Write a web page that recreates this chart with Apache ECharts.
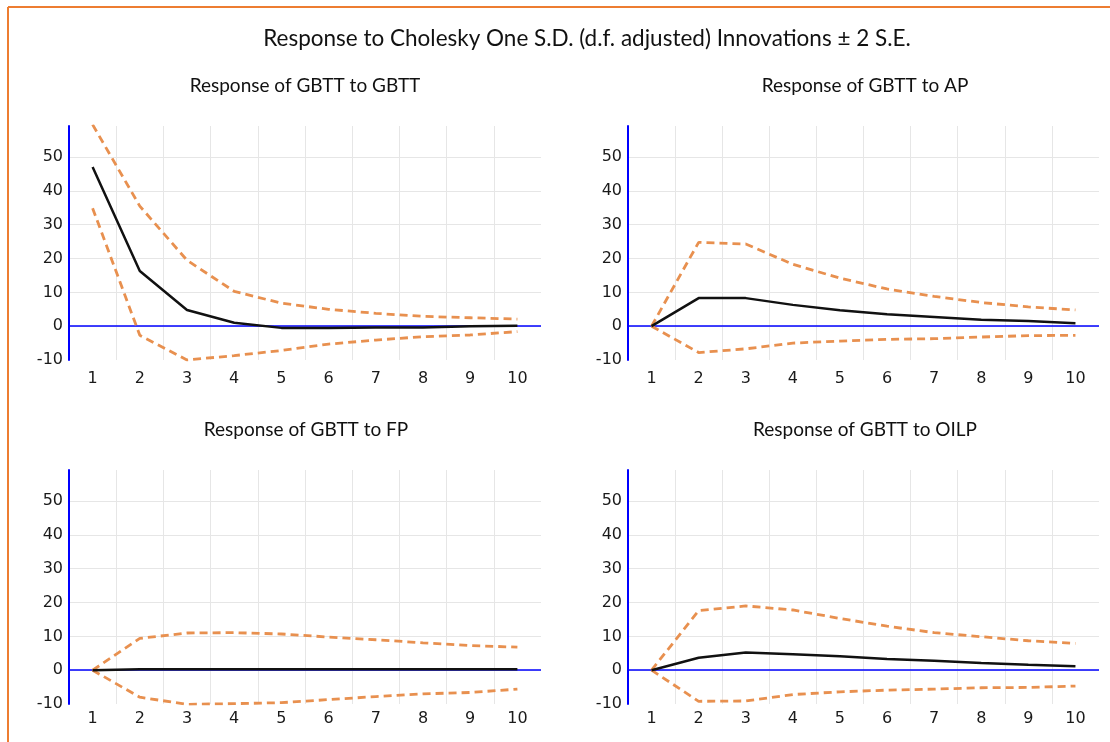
<!DOCTYPE html>
<html>
<head>
<meta charset="utf-8">
<style>
html,body{margin:0;padding:0;background:#fff;}
#chart{width:1110px;height:742px;}
</style>
<script src="https://cdn.jsdelivr.net/npm/echarts@6/dist/echarts.min.js"></script>
</head>
<body>
<div id="chart"></div>
<script>
// ---- data ----
var periods = ['1','2','3','4','5','6','7','8','9','10'];
var mainTitle = 'Response to Cholesky One S.D. (d.f. adjusted) Innovations \u00b1 2 S.E.';
var panelTitles = ['Response of GBTT to GBTT','Response of GBTT to AP','Response of GBTT to FP','Response of GBTT to OILP'];

var gbttResp  = [47.1, 16.3, 4.8, 1.0, -0.5, -0.5, -0.4, -0.4, 0.0, 0.1];
var gbttUpper = [59.6, 35.5, 19.5, 10.3, 6.8, 5.0, 3.8, 2.9, 2.5, 2.1];
var gbttLower = [34.9, -2.7, -10.0, -8.7, -7.2, -5.3, -4.1, -3.1, -2.6, -1.6];

var apResp  = [0, 8.3, 8.3, 6.3, 4.7, 3.5, 2.7, 1.9, 1.5, 0.9];
var apUpper = [0, 24.8, 24.3, 18.3, 14.2, 11.0, 8.8, 7.0, 5.7, 4.8];
var apLower = [0, -7.8, -6.7, -5.0, -4.4, -3.9, -3.7, -3.2, -2.8, -2.7];

var fpResp  = [0, 0.3, 0.3, 0.3, 0.3, 0.3, 0.3, 0.3, 0.3, 0.3];
var fpUpper = [0, 9.4, 11.0, 11.1, 10.7, 9.8, 9.0, 8.1, 7.3, 6.8];
var fpLower = [0, -8.0, -10.1, -9.9, -9.6, -8.7, -7.8, -7.0, -6.6, -5.6];

var oilpResp  = [0, 3.7, 5.2, 4.7, 4.1, 3.3, 2.8, 2.1, 1.6, 1.2];
var oilpUpper = [0, 17.6, 19.0, 17.8, 15.3, 13.0, 11.1, 9.9, 8.7, 7.9];
var oilpLower = [0, -9.2, -9.1, -7.2, -6.4, -5.9, -5.6, -5.2, -5.1, -4.7];

var yMin = -10, yMax = 59.2, yStep = 10;

// ---- layout ----
var panels = [
  {resp: gbttResp, up: gbttUpper, lo: gbttLower, grid: {left: 69, top: 126, width: 472, height: 234}, tx: 305, ty: 76, lm: 11},
  {resp: apResp, up: apUpper, lo: apLower, grid: {left: 628, top: 126, width: 471, height: 234}, tx: 865, ty: 76, lm: 11},
  {resp: fpResp, up: fpUpper, lo: fpLower, grid: {left: 69, top: 470, width: 472, height: 234}, tx: 306, ty: 420, lm: 7},
  {resp: oilpResp, up: oilpUpper, lo: oilpLower, grid: {left: 628, top: 470, width: 471, height: 234}, tx: 865, ty: 420, lm: 7}
];

var orange = '#E8904F';
var gridCol = '#E6E6E6';
var xSplitColors = [];
for (var i = 0; i < 10; i++) xSplitColors.push(gridCol);
xSplitColors.push('rgba(0,0,0,0)');
var ySplitColors = ['rgba(0,0,0,0)', gridCol, gridCol, gridCol, gridCol, gridCol, gridCol, 'rgba(0,0,0,0)'];

var option = {
  backgroundColor: '#fff',
  animation: false,
  title: [{
    text: mainTitle, left: 587, top: 27, textAlign: 'center', padding: 0,
    textStyle: {fontFamily: 'Lato', fontSize: 22.5, fontWeight: 'normal', color: '#111'}
  }],
  graphic: [
    {type: 'line', shape: {x1: 8, y1: 7, x2: 1110, y2: 7}, style: {stroke: '#ED7D31', lineWidth: 2}},
    {type: 'line', shape: {x1: 8, y1: 7, x2: 8, y2: 742}, style: {stroke: '#ED7D31', lineWidth: 2}}
  ],
  grid: [], xAxis: [], yAxis: [], series: []
};

panels.forEach(function (p, k) {
  option.title.push({
    text: panelTitles[k], left: p.tx, top: p.ty, textAlign: 'center', padding: 0,
    textStyle: {fontFamily: 'Lato', fontSize: 19, fontWeight: 'normal', color: '#111'}
  });
  option.grid.push(Object.assign({containLabel: false}, p.grid));
  option.xAxis.push({
    type: 'category', gridIndex: k, data: periods, boundaryGap: true,
    axisLine: {show: false}, axisTick: {show: false},
    axisLabel: {margin: p.lm, fontFamily: 'DejaVu Sans', fontSize: 16, color: '#1a1a1a'},
    splitLine: {show: true, lineStyle: {color: xSplitColors, width: 1}}
  });
  option.yAxis.push({
    type: 'value', gridIndex: k, min: yMin, max: yMax, interval: yStep,
    axisLine: {show: true, onZero: false, lineStyle: {color: '#0000FF', width: 2}},
    axisTick: {show: false},
    axisLabel: {margin: 6, showMaxLabel: false, fontFamily: 'DejaVu Sans', fontSize: 16, color: '#1a1a1a'},
    splitLine: {show: true, lineStyle: {color: ySplitColors, width: 1}}
  });
  option.series.push({
    type: 'line', xAxisIndex: k, yAxisIndex: k, data: p.up, symbol: 'none', silent: true,
    lineStyle: {color: orange, width: 2.8, type: [8, 5]}, clip: true, z: 3
  });
  option.series.push({
    type: 'line', xAxisIndex: k, yAxisIndex: k, data: p.lo, symbol: 'none', silent: true,
    lineStyle: {color: orange, width: 2.8, type: [8, 5]}, clip: true, z: 3
  });
  option.series.push({
    type: 'line', xAxisIndex: k, yAxisIndex: k, data: p.resp, symbol: 'none', silent: true,
    lineStyle: {color: '#111', width: 2.5}, clip: true, z: 4,
    markLine: {
      silent: true, symbol: 'none', label: {show: false}, animation: false,
      lineStyle: {color: '#0000FF', width: 1.5, type: 'solid'},
      data: [{yAxis: 0}], z: 2
    }
  });
});

var chart = echarts.init(document.getElementById('chart'), null, {renderer: 'canvas'});
chart.setOption(option);
</script>
</body>
</html>
